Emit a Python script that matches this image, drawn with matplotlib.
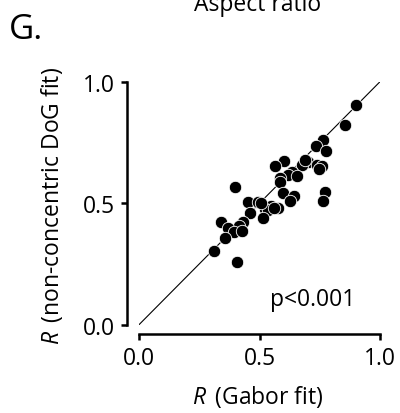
import matplotlib
matplotlib.use("Agg")
import matplotlib.pyplot as plt

plt.rcParams['font.family'] = ['Open Sans', 'DejaVu Sans']
plt.rcParams['mathtext.fontset'] = 'custom'
plt.rcParams['mathtext.it'] = 'Open Sans:italic'
plt.rcParams['mathtext.rm'] = 'Open Sans'

gabor_r = [0.900, 0.855, 0.765, 0.734, 0.776, 0.602, 0.564, 0.703, 0.675, 0.737,
           0.758, 0.746, 0.636, 0.617, 0.657, 0.585, 0.585, 0.398, 0.596, 0.772,
           0.765, 0.643, 0.627, 0.451, 0.495, 0.548, 0.523, 0.578, 0.535, 0.461,
           0.513, 0.339, 0.433, 0.416, 0.371, 0.394, 0.426, 0.357, 0.311, 0.405,
           0.689, 0.505, 0.560]
dog_r = [0.904, 0.823, 0.760, 0.734, 0.716, 0.675, 0.654, 0.671, 0.657, 0.657,
         0.654, 0.641, 0.627, 0.616, 0.613, 0.604, 0.586, 0.565, 0.541, 0.545,
         0.510, 0.531, 0.510, 0.504, 0.504, 0.487, 0.476, 0.479, 0.472, 0.460,
         0.438, 0.421, 0.421, 0.407, 0.398, 0.380, 0.387, 0.356, 0.305, 0.259,
         0.678, 0.500, 0.482]
ticks = [0.0, 0.5, 1.0]
tick_labels = ['0.0', '0.5', '1.0']

W, H = 400, 414
fig = plt.figure(figsize=(W/100, H/100), dpi=100)
ax_l, ax_r, ax_t, ax_b = 139, 380, 82.7, 325.7
ax = fig.add_axes([ax_l/W, 1-ax_b/H, (ax_r-ax_l)/W, (ax_b-ax_t)/H])

ax.plot([0, 1], [0, 1], color='black', lw=0.8, zorder=1)
ax.scatter(gabor_r, dog_r, s=80, c='black', edgecolors='white', linewidths=0.6,
           zorder=2, clip_on=False)

ax.set_xlim(0, 1)
ax.set_ylim(0, 1)
ax.set_xticks(ticks)
ax.set_xticklabels(tick_labels)
ax.set_yticks(ticks)
ax.set_yticklabels(tick_labels)

for s in ['top', 'right']:
    ax.spines[s].set_visible(False)
ax.spines['left'].set_position(('outward', 9))
ax.spines['bottom'].set_position(('outward', 7))
for s in ['left', 'bottom']:
    ax.spines[s].set_linewidth(1.8)
    ax.spines[s].set_bounds(0, 1)
ax.tick_params(axis='both', length=4.5, width=1.8, labelsize=16.5, pad=4)

ax.set_xlabel(r'$\it{R}$' + '\u2009 (Gabor fit)', fontsize=16.5)
ax.set_ylabel(r'$\it{R}$' + '\u2009 (non-concentric DoG fit)', fontsize=16.5)
ax.xaxis.set_label_coords((258-ax_l)/(ax_r-ax_l), (ax_b-397)/(ax_b-ax_t))
ax.yaxis.set_label_coords((52-ax_l)/(ax_r-ax_l), (ax_b-206)/(ax_b-ax_t))
ax.xaxis.label.set_va('center')
ax.yaxis.label.set_va('center')

ax.text((313-ax_l)/(ax_r-ax_l), (ax_b-300)/(ax_b-ax_t), 'p<0.001', fontsize=16.5,
        ha='center', va='center', transform=ax.transAxes)

fig.text(258/W, 1-11/H, 'Aspect ratio', fontsize=16.5, ha='center', va='baseline')
fig.text(9/W, 1-39/H, 'G.', fontsize=25, ha='left', va='baseline')

fig.savefig('out.png', dpi=100)
